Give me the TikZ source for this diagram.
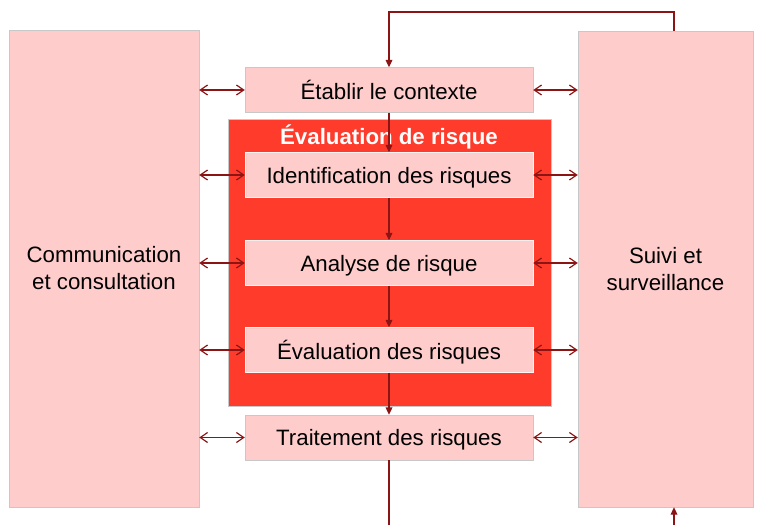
\documentclass[tikz,border=0pt]{standalone}
\usepackage{fontspec}
\setmainfont{Liberation Sans}
\usetikzlibrary{arrows.meta}
\definecolor{palepink}{RGB}{255,204,204}
\definecolor{riskred}{RGB}{255,59,43}
\definecolor{linkred}{RGB}{139,20,20}
\definecolor{edgegray}{RGB}{200,200,200}
\begin{document}
\begin{tikzpicture}
[x=0.03cm,y=-0.03cm,%
  every node/.style={draw=edgegray,fill=palepink,inner sep=0pt,align=center,font=\fontsize{19}{23}\selectfont},%
  stage/.style={minimum width=8.64cm,minimum height=1.35cm,text depth=0pt},%
  substage/.style={stage,draw=white!80!palepink},%
  both/.style={linkred,line width=1pt,{Straight Barb[length=2.2mm,width=3mm]}-{Straight Barb[length=2.2mm,width=3mm]}},%
  flow/.style={linkred,line width=1pt,-{Triangle[length=2.2mm,width=2mm]}}]
\useasboundingbox (0,0) rectangle (758,525);
% side columns
\node (comm) [minimum width=5.7cm,minimum height=14.31cm] at (104,268.5) {Communication\\et consultation};
\node (suivi) [minimum width=5.25cm,minimum height=14.28cm] at (665.5,269) {Suivi et\\surveillance};
% risk assessment block
\node (evalbox) [fill=riskred,minimum width=9.69cm,minimum height=8.61cm] at (389.5,262.5) {};
\node (titre) [draw=none,fill=none,text=white,font=\fontsize{19}{23}\selectfont\bfseries] at (389,137) {Évaluation de risque};
% process steps
\node (ctx) [stage] at (389,90) {Établir le contexte};
\node (ident) [substage] at (389,175) {Identification des risques};
\node (analyse) [substage] at (389,263) {Analyse de risque};
\node (evalr) [substage] at (389,350) {Évaluation des risques};
\node (trait) [stage] at (389,437.5) {Traitement des risques};
% links to the side columns
\foreach \n in {ctx,ident,analyse,evalr,trait} {
  \draw[both] (comm.east |- \n) -- (\n.west);
  \draw[both] (\n.east) -- (suivi.west |- \n);
}
% flow between steps
\draw[flow] (ctx.south) -- (ident.north);
\draw[flow] (ident.south) -- (analyse.north);
\draw[flow] (analyse.south) -- (evalr.north);
\draw[flow] (evalr.south) -- (trait.north);
% feedback loops
\coordinate (retour) at (674,12);
\coordinate (bas) at (389,525);
\coordinate (basdroite) at (674,525);
\draw[flow] (suivi.north -| retour) -- (retour) -- (retour -| ctx) -- (ctx.north);
\draw[linkred,line width=1pt] (trait.south) -- (bas);
\draw[flow] (basdroite) -- (basdroite |- suivi.south);
\end{tikzpicture}
\end{document}
